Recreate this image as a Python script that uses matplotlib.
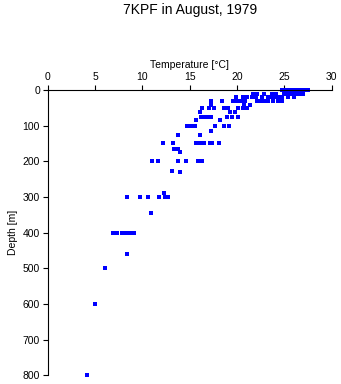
import matplotlib
matplotlib.use("Agg")
import matplotlib.pyplot as plt

plt.rcParams['font.family'] = ['Liberation Sans', 'DejaVu Sans']

# station 7KPF, August 1979 -- temperature readings at each depth
depth_levels = [0, 10, 20, 30, 42, 50, 63, 75, 83, 100, 114, 125, 150, 166, 173,
                200, 227, 231, 288, 300, 346, 400, 460, 500, 600, 800]
temps_at_level = [
    [24.7, 25.1, 25.4, 25.7, 26.0, 26.3, 26.6, 26.9, 27.2, 27.5],           # 0
    [21.7, 22.1, 22.9, 23.7, 24.1, 25.0, 25.4, 25.8, 26.1, 26.5, 27.0],     # 10
    [19.9, 20.6, 21.1, 21.6, 22.0, 22.6, 23.3, 23.7, 24.1, 24.5, 24.8, 25.4, 26.0],  # 20
    [17.2, 18.4, 19.6, 20.0, 20.4, 20.8, 22.1, 22.5, 22.9, 23.3, 23.8, 24.3, 24.7],  # 30
    [17.3, 20.7, 21.4],
    [16.3, 17.0, 17.6, 18.6, 19.0, 20.1, 20.6, 21.1],
    [16.1, 19.3, 19.8],
    [16.2, 16.5, 16.9, 17.2, 18.9, 19.5, 20.1],
    [15.7, 18.2],
    [14.7, 15.1, 15.6, 17.7, 18.6, 19.2],
    [17.3],
    [13.8, 16.1],
    [12.2, 13.2, 15.7, 16.1, 16.5, 17.1, 17.4, 18.1],
    [13.3, 13.8],
    [14.0],
    [11.0, 11.6, 13.8, 14.6, 15.9, 16.3],
    [13.1],
    [14.0],
    [12.3],
    [8.4, 9.8, 10.6, 11.8, 12.4, 12.7],
    [10.9],
    [6.9, 7.3, 7.8, 8.3, 8.7, 9.1],
    [8.4],
    [6.0],
    [5.0],
    [4.2],
]

depth = []
temperature = []
for d, ts in zip(depth_levels, temps_at_level):
    for t in ts:
        depth.append(d)
        temperature.append(t)

fig = plt.figure(figsize=(3.41, 3.84), dpi=100)
ax = fig.add_axes([0.14, 0.0227, 0.8327, 0.7429])

ax.plot(temperature, depth, 's', color='#0000ff', ms=2.3, mew=0,
        antialiased=False, clip_on=False)

ax.set_xlim(0, 30)
ax.set_ylim(800, 0)
ax.set_xticks(range(0, 31, 5))
ax.set_yticks(range(0, 801, 100))

ax.xaxis.tick_top()
ax.xaxis.set_label_position('top')
for s in ['right', 'bottom']:
    ax.spines[s].set_visible(False)
for s in ['top', 'left']:
    ax.spines[s].set_linewidth(0.8)

ax.tick_params(axis='both', direction='out', length=3.6, width=0.8,
               labelsize=7.5, pad=2)
ax.set_xlabel('Temperature [\u00b0C]', fontsize=7.5, labelpad=3)
ax.set_ylabel('Depth [m]', fontsize=7.5, labelpad=3)

fig.text(0.556, 0.975, '7KPF in August, 1979', ha='center', va='center', fontsize=10)

fig.savefig('out.png', dpi=100)
